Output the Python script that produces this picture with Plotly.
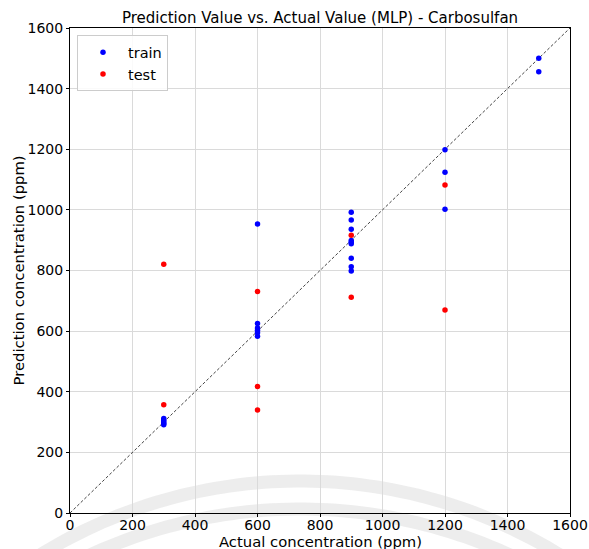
import numpy as np
import plotly.graph_objects as go

# Training set: actual vs predicted concentration (ppm)
train_actual = [300, 300, 300, 300, 300,
                600, 600, 600, 600, 600, 600,
                900, 900, 900, 900, 900, 900, 900, 900, 900,
                1200, 1200, 1200,
                1500, 1500]
train_pred = [312, 306, 300, 295, 291,
              953, 625, 610, 603, 595, 583,
              992, 967, 936, 899, 893, 888, 840, 812, 798,
              1198, 1124, 1002,
              1500, 1456]

# Test set
test_actual = [300, 300, 600, 600, 600, 900, 900, 1200, 1200]
test_pred = [821, 357, 731, 417, 340, 916, 712, 1082, 670]

axis_min, axis_max = 0, 1600
tick_vals = list(range(0, 1601, 200))

W, H = 589, 549
ml, mr, mt, mb = 70, 19, 28, 36
pw, ph = W - ml - mr, H - mt - mb

fig = go.Figure()

fig.add_trace(go.Scatter(
    x=[axis_min, axis_max], y=[axis_min, axis_max], mode="lines",
    line=dict(color="#444444", width=1, dash="3px,2px"),
    showlegend=False, hoverinfo="skip"))

fig.add_trace(go.Scatter(
    x=train_actual, y=train_pred, mode="markers", name="train",
    marker=dict(color="#0000ff", size=5.5)))

fig.add_trace(go.Scatter(
    x=test_actual, y=test_pred, mode="markers", name="test",
    marker=dict(color="#ff0000", size=5.5)))

# faint background arcs near the bottom of the page
def arc_path(cx, cy, r, x0, x1):
    xs = np.linspace(x0, x1, 80)
    pts = []
    for xp in xs:
        d = r * r - (xp - cx) ** 2
        if d < 0:
            continue
        yp = cy - np.sqrt(d)
        pts.append(((xp - ml) / pw, (H - mb - yp) / ph))
    return "M " + " L ".join(f"{a:.4f},{b:.4f}" for a, b in pts)

for cx, cy, r in [(300, 975, 494), (300, 1012, 503)]:
    fig.add_shape(type="path", path=arc_path(cx, cy, r, -20, 620),
                  xref="paper", yref="paper", layer="below",
                  line=dict(color="rgba(215,215,215,0.45)", width=13))

axis_common = dict(
    range=[axis_min, axis_max], tickvals=tick_vals,
    showgrid=True, gridcolor="#dadada", gridwidth=1,
    showline=True, linecolor="black", linewidth=1, mirror=True,
    ticks="outside", ticklen=3, tickcolor="black",
    zeroline=False, automargin=False, ticklabeloverflow="allow",
    tickfont=dict(family="DejaVu Sans", size=14, color="black"),
)

label_font = dict(family="DejaVu Sans", size=14.8, color="black")

fig.update_layout(
    width=W, height=H,
    margin=dict(l=ml, r=mr, t=mt, b=mb),
    paper_bgcolor="white", plot_bgcolor="white",
    title=dict(text="Prediction Value vs. Actual Value (MLP) - Carbosulfan",
               x=(ml + pw / 2) / W, xanchor="center", y=1 - 18 / H, yanchor="middle",
               font=dict(family="DejaVu Sans", size=15, color="black")),
    xaxis=dict(**axis_common, ticklabelstandoff=-4),
    yaxis=axis_common,
    legend=dict(x=0.014, y=0.985, xanchor="left", yanchor="top",
                bgcolor="rgba(255,255,255,0.85)", bordercolor="#cccccc", borderwidth=1,
                font=dict(family="DejaVu Sans", size=14.5, color="black"),
                itemwidth=40, tracegroupgap=0),
    showlegend=True,
    annotations=[
        dict(text="Actual concentration (ppm)", xref="paper", yref="paper",
             x=0.5, y=(H - mb - 541.5) / ph, xanchor="center", yanchor="middle",
             borderpad=0, showarrow=False, font=label_font),
        dict(text="Prediction concentration (ppm)", xref="paper", yref="paper",
             x=(18 - ml) / pw, y=0.5, xanchor="center", yanchor="middle",
             borderpad=0, textangle=-90, showarrow=False, font=label_font),
    ],
)

fig.write_html("out.html")
